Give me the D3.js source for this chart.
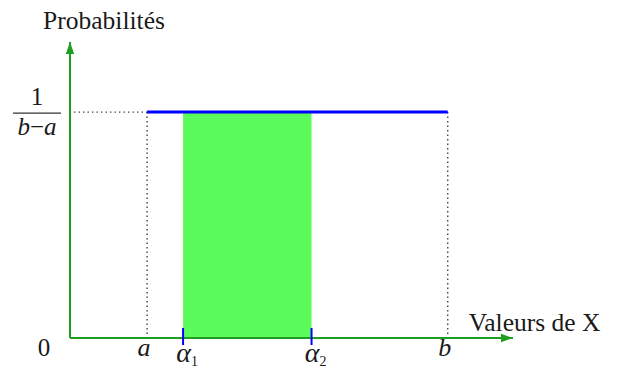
<!DOCTYPE html>
<html><head><meta charset="utf-8">
<script src="https://cdn.jsdelivr.net/npm/d3@7"></script>
<style>body{margin:0;background:#fff}svg{display:block}</style>
</head><body>
<svg id="c" width="617" height="369" font-family="'Liberation Serif', 'DejaVu Serif', serif"></svg>
<script>
// data
const xPoints = ["a", "α1", "α2", "b"];
const xValues = [1.5, 2.2, 4.7, 7.35];
const xMax = 8.62;
const density = 1 / (xValues[3] - xValues[0]);
const yMax = 0.224;
const axisTitles = ["Probabilités", "Valeurs de X"];

const svg = d3.select("#c");
const x = d3.scaleLinear().domain([0, xMax]).range([70, 513]);
const y = d3.scaleLinear().domain([0, yMax]).range([338, 42]);
const [a, a1, a2, b] = xValues;
const green = "#1f9e1f";
const ink = "#1a1a1a";

const defs = svg.append("defs");
defs.append("marker").attr("id","arr").attr("viewBox","0 0 10 10").attr("refX",10).attr("refY",5)
  .attr("markerWidth",12).attr("markerHeight",12).attr("markerUnits","userSpaceOnUse").attr("orient","auto")
  .append("path").attr("d","M0,1.5 L10,5 L0,8.5 Z").attr("fill",green);

// shaded area
svg.append("rect").attr("x", x(a1)).attr("y", y(density)).attr("width", x(a2)-x(a1)).attr("height", y(0)-y(density)).attr("fill","#5cfb5c");

// dotted guides
const dot = {stroke:"#444","stroke-width":1.4,"stroke-dasharray":"1.4,3.1"};
function line(x1,y1,x2,y2,st){const l=svg.append("line").attr("x1",x1).attr("y1",y1).attr("x2",x2).attr("y2",y2);for(const k in st)l.attr(k,st[k]);return l;}
line(x(0)+4, y(density), x(a), y(density), dot);
line(x(a), y(density), x(a), y(0), dot);
line(x(b), y(density), x(b), y(0), dot);

// axes
line(x(0), y(0), x(0), y(yMax), {stroke:green,"stroke-width":2}).attr("marker-end","url(#arr)");
line(x(0), y(0), x(xMax), y(0), {stroke:green,"stroke-width":2}).attr("marker-end","url(#arr)");

// density line
line(x(a), y(density), x(b), y(density), {stroke:"#0000ff","stroke-width":3});

// alpha ticks
[a1,a2].forEach(v=>line(x(v), y(0)-10, x(v), y(0)+7, {stroke:"#0000ff","stroke-width":2}));

function txt(xp, yp, size){return svg.append("text").attr("x",xp).attr("y",yp).attr("text-anchor","middle").attr("font-size",size).attr("fill",ink);}
// labels
txt(104, 29, 25.5).text(axisTitles[0]);
txt(534.5, 331, 25.5).text(axisTitles[1]);
// fraction 1/(b-a)
txt(37, 105, 25).text("1");
line(13, y(density)+1, 61, y(density)+1, {stroke:"#333","stroke-width":1.2});
const fr = txt(37, 135, 25);
fr.append("tspan").attr("font-style","italic").text("b");
fr.append("tspan").text("\u2212");
fr.append("tspan").attr("font-style","italic").text("a");
txt(44, 356, 25).text("0");
// x point labels
xPoints.forEach((p,i)=>{
  const sub = p.length>1;
  const t = txt(x(xValues[i])+(sub?4:-3), sub?362:356, sub?28:26).attr("font-style","italic");
  t.append("tspan").text(p[0]);
  if(sub) t.append("tspan").attr("font-size",14).attr("font-style","normal").attr("dy",4).text(p.slice(1));
});
</script>
</body></html>
